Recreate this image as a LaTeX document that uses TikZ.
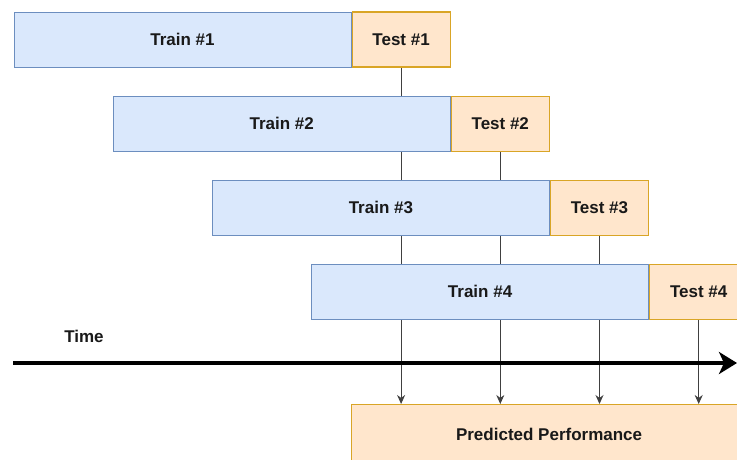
\documentclass[tikz,border=0pt]{standalone}
\usepackage{fontspec}
\setmainfont{Liberation Sans}
\usepackage{tikz}
\usetikzlibrary{arrows.meta, positioning, backgrounds}
\definecolor{trainfill}{HTML}{DAE8FC}
\definecolor{trainline}{HTML}{6C8EBF}
\definecolor{testfill}{HTML}{FFE6CC}
\definecolor{testline}{HTML}{D9A526}

\tikzset{
  lbl/.style={font=\fontsize{17}{20}\selectfont\bfseries, text=black!90},
  trainbox/.style={lbl, draw=trainline, fill=trainfill, line width=1pt,
    minimum width=337pt, minimum height=55pt, inner sep=0pt},
  testbox/.style={lbl, draw=testline, fill=testfill, line width=1.2pt,
    minimum width=98pt, minimum height=55pt, inner sep=0pt},
  result/.style={-{Stealth[length=9pt, width=8pt]}, line width=1pt, black!75}
}

\begin{document}
\begin{tikzpicture}[x=1pt, y=-1pt]
    \clip (0,0) rectangle (737,459);

    % Folds
    \node[trainbox, anchor=north west] (train1) at (13.5,11.5) {Train \#1};
    \node[testbox, right=0pt of train1] (test1) {Test \#1};

    \node[trainbox, below=28pt of test1.south east, anchor=north east] (train2) {Train \#2};
    \node[testbox, right=0pt of train2] (test2) {Test \#2};

    \node[trainbox, below=28pt of test2.south east, anchor=north east] (train3) {Train \#3};
    \node[testbox, right=0pt of train3] (test3) {Test \#3};

    \node[trainbox, below=28pt of test3.south east, anchor=north east] (train4) {Train \#4};
    \node[testbox, right=0pt of train4] (test4) {Test \#4};

    % Time axis
    \coordinate (tstart) at (13,363);
    \coordinate (tend) at (737,363);
    \draw[line width=4.5pt, -{Stealth[length=18pt, width=22pt, inset=5pt]}] (tstart) -- (tend);
    \node[lbl] (time) at (84,336) {Time};

    % Result
    \node[testbox, minimum width=395pt, minimum height=60pt, anchor=north west] (perf) at (351,404) {Predicted Performance};

    % Test results collected
    \begin{scope}[on background layer]
        \foreach \t in {test1, test2, test3, test4}
            \draw[result] (\t.south) -- (\t.south |- perf.north);
    \end{scope}
\end{tikzpicture}
\end{document}
